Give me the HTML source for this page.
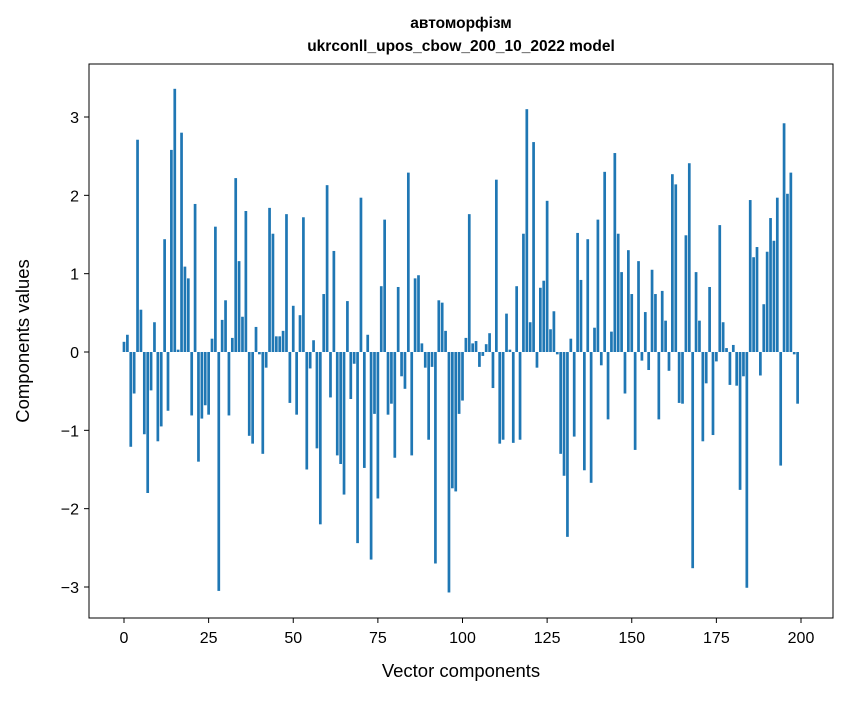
<!DOCTYPE html>
<html><head><meta charset="utf-8"><style>
body{margin:0;background:#fff;}
svg text{font-family:"Liberation Sans","DejaVu Sans",sans-serif;fill:#000;}
</style></head><body>
<svg id="chart" width="847" height="696" xmlns="http://www.w3.org/2000/svg">
<rect width="847" height="696" fill="#fff"/>
<text x="461" y="28" text-anchor="middle" font-size="15.5" font-weight="bold">автоморфізм</text>
<text x="461" y="51" text-anchor="middle" font-size="15.5" font-weight="bold">ukrconll_upos_cbow_200_10_2022 model</text>
<g id="bars"></g>
<g id="axes"></g>
<rect x="89" y="64" width="744" height="554" fill="none" stroke="#000" stroke-width="1"/>
<text x="461" y="677" text-anchor="middle" font-size="18.5">Vector components</text>
<text transform="translate(29,341) rotate(-90)" text-anchor="middle" font-size="18.5">Components values</text>
</svg>
<script>
const values = [0.13,0.22,-1.21,-0.53,2.71,0.54,-1.05,-1.80,-0.49,0.38,-1.14,-0.95,1.44,-0.75,2.58,3.36,0.03,2.80,1.09,0.94,
-0.81,1.89,-1.40,-0.85,-0.68,-0.80,0.17,1.60,-3.05,0.41,0.66,-0.81,0.18,2.22,1.16,0.45,1.80,-1.07,-1.17,0.32,
-0.03,-1.30,-0.20,1.84,1.51,0.20,0.20,0.27,1.76,-0.65,0.59,-0.80,0.47,1.72,-1.50,-0.21,0.15,-1.23,-2.20,0.74,
2.13,-0.58,1.29,-1.32,-1.43,-1.82,0.65,-0.60,-0.15,-2.44,1.97,-1.48,0.22,-2.65,-0.79,-1.87,0.84,1.69,-0.80,-0.66,
-1.35,0.83,-0.31,-0.47,2.29,-1.32,0.94,0.98,0.11,-0.20,-1.12,-0.19,-2.70,0.66,0.63,0.27,-3.07,-1.74,-1.78,-0.79,
-0.62,0.18,1.76,0.11,0.14,-0.19,-0.05,0.10,0.24,-0.46,2.20,-1.17,-1.12,0.49,0.03,-1.16,0.84,-1.12,1.51,3.10,
0.38,2.68,-0.20,0.82,0.91,1.93,0.29,0.52,-0.03,-1.30,-1.58,-2.36,0.17,-1.08,1.52,0.92,-1.51,1.44,-1.67,0.31,
1.69,-0.17,2.30,-0.86,0.26,2.54,1.51,1.02,-0.53,1.30,0.74,-1.25,1.16,-0.11,0.51,-0.23,1.05,0.74,-0.86,0.78,
0.40,-0.24,2.27,2.14,-0.65,-0.66,1.49,2.41,-2.76,1.02,0.40,-1.14,-0.40,0.83,-1.06,-0.12,1.62,0.38,0.05,-0.42,
0.09,-0.43,-1.76,-0.31,-3.01,1.94,1.21,1.34,-0.30,0.61,1.28,1.71,1.42,1.97,-1.45,2.92,2.02,2.29,-0.03,-0.66];
const xTicks = [0,25,50,75,100,125,150,175,200];
const yTicks = [-3,-2,-1,0,1,2,3];
const xs = v => 124 + v*3.385;
const ys = v => 352 - v*78.33;
const NS = "http://www.w3.org/2000/svg";
const bars = document.getElementById('bars');
values.forEach((v,i)=>{
  const r = document.createElementNS(NS,'rect');
  
  
  const y0 = ys(0), y1 = ys(v);
  r.setAttribute('x', xs(i-0.4));
  r.setAttribute('width', 3.385*0.8);
  r.setAttribute('y', Math.min(y0,y1));
  r.setAttribute('height', Math.abs(y1-y0));
  r.setAttribute('fill','#1f77b4');
  bars.appendChild(r);
});
const axes = document.getElementById('axes');
xTicks.forEach(t=>{
  const l = document.createElementNS(NS,'line');
  
  
  l.setAttribute('x1',xs(t));l.setAttribute('x2',xs(t));
  l.setAttribute('y1',618);l.setAttribute('y2',623);
  l.setAttribute('stroke','#000');
  axes.appendChild(l);
  const tx = document.createElementNS(NS,'text');
  
  
  tx.setAttribute('x',xs(t));tx.setAttribute('y',643);
  tx.setAttribute('text-anchor','middle');tx.setAttribute('font-size','16');
  tx.textContent = t;
  axes.appendChild(tx);
});
yTicks.forEach(t=>{
  const l = document.createElementNS(NS,'line');
  
  
  l.setAttribute('x1',84);l.setAttribute('x2',89);
  l.setAttribute('y1',ys(t));l.setAttribute('y2',ys(t));
  l.setAttribute('stroke','#000');
  axes.appendChild(l);
  const tx = document.createElementNS(NS,'text');
  
  
  tx.setAttribute('x',79);tx.setAttribute('y',ys(t)+6);
  tx.setAttribute('text-anchor','end');tx.setAttribute('font-size','16');
  tx.textContent = t<0 ? '\u2212'+Math.abs(t) : t;
  axes.appendChild(tx);
});
</script>
</body></html>
